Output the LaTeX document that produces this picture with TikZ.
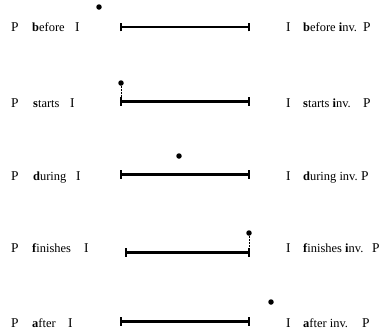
\documentclass[tikz,border=0pt]{standalone}
\usepackage{fontspec}
\setmainfont{Liberation Serif}
\begin{document}
\begin{tikzpicture}[x=1bp,y=-1bp,
  lbl/.style={anchor=base west,inner sep=0pt,font=\fontsize{12.5}{14}\selectfont},
  sym/.style={anchor=base west,inner sep=0pt,font=\fontsize{13.5}{15}\selectfont},
  bar/.style={line width=2.2bp},
  tick/.style={line width=1.6bp},
  pt/.style={circle,fill=black,inner sep=0pt,minimum size=5.5bp},
  link/.style={densely dotted,line width=0.5bp}]
\useasboundingbox (0,0) rectangle (381,335);

% before
\node[sym] (p1) at (11,31) {P};
\node[lbl] (r1) at (32,31) {\textbf{b}efore};
\node[sym] (i1) at (75,31) {I};
\coordinate (a1) at (121,27);
\coordinate (b1) at (249,27);
\draw[bar] (a1) -- (b1);
\draw[tick] ([yshift=-4.5]a1) -- ([yshift=4.5]a1) ([yshift=-4.5]b1) -- ([yshift=4.5]b1);
\node[pt] (d1) at (99,7) {};
\node[sym] (j1) at (286,31) {I};
\node[lbl] (s1) at (303,31) {\textbf{b}efore \textbf{i}nv.};
\node[sym] (q1) at (363,31) {P};

% starts
\node[sym] (p2) at (11,107) {P};
\node[lbl] (r2) at (33,107) {\textbf{s}tarts};
\node[sym] (i2) at (70,107) {I};
\coordinate (a2) at (121,101.5);
\coordinate (b2) at (249,101.5);
\draw[bar] (a2) -- (b2);
\draw[tick] ([yshift=-4.5]a2) -- ([yshift=4.5]a2) ([yshift=-4.5]b2) -- ([yshift=4.5]b2);
\node[pt] (d2) at (121,83) {};
\draw[link] (d2) -- (a2);
\node[sym] (j2) at (286,107) {I};
\node[lbl] (s2) at (303,107) {\textbf{s}tarts \textbf{i}nv.};
\node[sym] (q2) at (363,107) {P};

% during
\node[sym] (p3) at (11,180) {P};
\node[lbl] (r3) at (33,180) {\textbf{d}uring};
\node[sym] (i3) at (76,180) {I};
\coordinate (a3) at (121,174.5);
\coordinate (b3) at (249,174.5);
\draw[bar] (a3) -- (b3);
\draw[tick] ([yshift=-4.5]a3) -- ([yshift=4.5]a3) ([yshift=-4.5]b3) -- ([yshift=4.5]b3);
\node[pt] (d3) at (179,156) {};
\node[sym] (j3) at (286,180) {I};
\node[lbl] (s3) at (303,180) {\textbf{d}uring inv.};
\node[sym] (q3) at (361,180) {P};

% finishes
\node[sym] (p4) at (11,252) {P};
\node[lbl] (r4) at (32,252) {\textbf{f}inishes};
\node[sym] (i4) at (84,252) {I};
\coordinate (a4) at (126,252.5);
\coordinate (b4) at (249,252.5);
\draw[bar] (a4) -- (b4);
\draw[tick] ([yshift=-4.5]a4) -- ([yshift=4.5]a4) ([yshift=-4.5]b4) -- ([yshift=4.5]b4);
\node[pt] (d4) at (249,233) {};
\draw[link] (d4) -- (b4);
\node[sym] (j4) at (286,252) {I};
\node[lbl] (s4) at (303,252) {\textbf{f}inishes \textbf{i}nv.};
\node[sym] (q4) at (372,252) {P};

% after
\node[sym] (p5) at (11,327) {P};
\node[lbl] (r5) at (32,327) {\textbf{a}fter};
\node[sym] (i5) at (68,327) {I};
\coordinate (a5) at (121,321.5);
\coordinate (b5) at (249,321.5);
\draw[bar] (a5) -- (b5);
\draw[tick] ([yshift=-4.5]a5) -- ([yshift=4.5]a5) ([yshift=-4.5]b5) -- ([yshift=4.5]b5);
\node[pt] (d5) at (271,302) {};
\node[sym] (j5) at (286,327) {I};
\node[lbl] (s5) at (303,327) {\textbf{a}fter inv.};
\node[sym] (q5) at (362,327) {P};
\end{tikzpicture}
\end{document}
